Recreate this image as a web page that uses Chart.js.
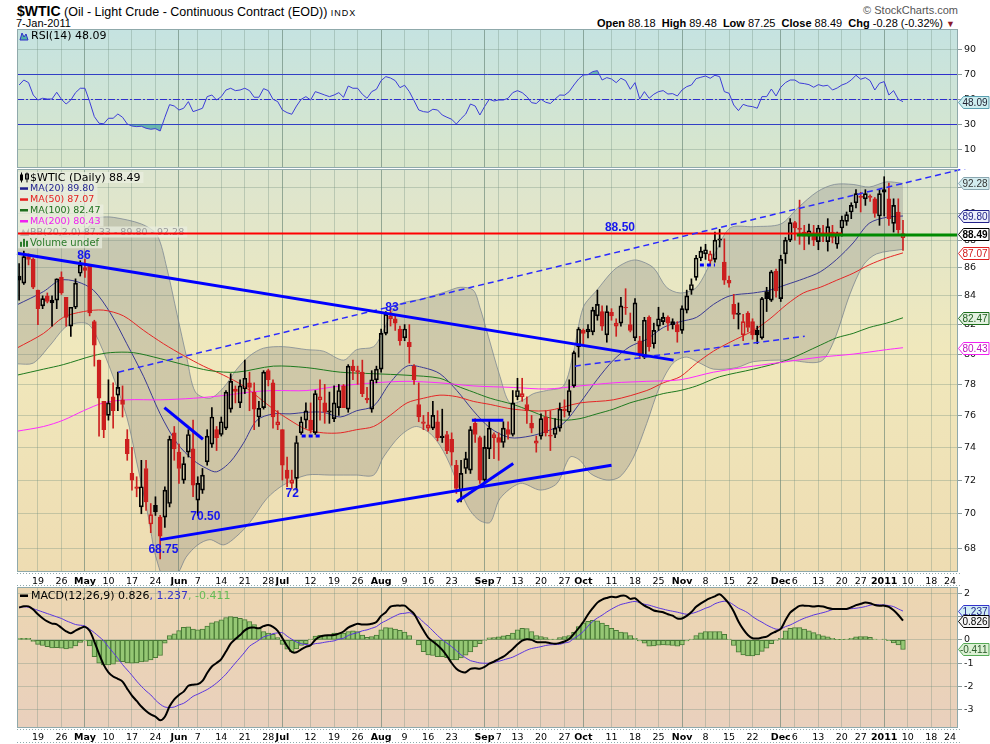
<!DOCTYPE html>
<html>
<head>
<meta charset="utf-8">
<title>$WTIC</title>
<script src="https://cdn.jsdelivr.net/npm/chart.js@4.4.1/dist/chart.umd.min.js"></script>
<style>
  body { margin: 0; width: 990px; height: 744px; background: #fff; position: relative; overflow: hidden; font-family: "Liberation Sans", Arial, sans-serif; }
  canvas { position: absolute; left: 0; }
  .txt { position: absolute; white-space: nowrap; font-size: 11px; line-height: 13px; color: #000; }
</style>
</head>
<body>
<div class="txt" style="left:17px;top:3px;line-height:16px;font-size:12.5px"><b style="font-size:14px">$WTIC</b> (Oil - Light Crude - Continuous Contract (EOD)) <span style="font-size:9px;letter-spacing:1px">INDX</span></div>
<div class="txt" style="left:16px;top:17px">7-Jan-2011</div>
<div class="txt" style="right:32px;top:4px;color:#555">&copy; StockCharts.com</div>
<div class="txt" style="right:35px;top:17px"><b>Open</b> 88.18 &nbsp;<b>High</b> 89.48 &nbsp;<b>Low</b> 87.25 &nbsp;<b>Close</b> 88.49 &nbsp;<b>Chg</b> -0.28 (-0.32%) <span style="color:#8b1a2b;font-size:9px">&#9660;</span></div>

<canvas id="rsiChart" width="990" height="139" style="top:29px"></canvas>
<canvas id="priceChart" width="990" height="418" style="top:169px"></canvas>
<canvas id="macdChart" width="990" height="157" style="top:587px"></canvas>

<script>
Chart.defaults.animation = false;
Chart.defaults.font.family = "'DejaVu Sans', Verdana, sans-serif";

// x axis: trading day index (0 = first bar, 188 = 7-Jan-2011)
const tickDays = [4, 9, 14, 19, 24, 29, 34, 38, 43, 48, 53, 56, 62, 67, 72, 77, 82, 87, 92, 99, 102, 106, 111, 116, 120, 126, 131, 136, 141, 146, 151, 156, 162, 165, 170, 175, 179, 184, 189, 194, 198];
const tickLabels = ["19", "26", "May", "10", "17", "24", "Jun", "7", "14", "21", "28", "Jul", "12", "19", "26", "Aug", "9", "16", "23", "Sep", "7", "13", "20", "27", "Oct", "11", "18", "25", "Nov", "8", "15", "22", "Dec", "6", "13", "20", "27", "2011", "10", "18", "24"];
const monthDays = [14, 34, 56, 77, 99, 120, 141, 162, 184];

// daily OHLC
const open = [85.4,84.9,86.8,86.6,84.4,83.3,84.0,83.5,83.7,85.3, 83.9,81.9,83.2,85.6,85.8,86.2,82.2,79.6,76.9,76.0,
  77.2,77.3,77.0,74.5,72.4,71.6,70.4,72.7,69.4,70.5, 69.8,69.8,70.6,74.9,73.7,72.0,73.7,73.9,70.8,71.4,
  73.1,74.2,75.1,74.8,75.2,76.4,77.7,76.8,77.7,78.1, 77.5,75.9,76.5,78.9,78.1,75.4,75.1,72.6,71.8,72.1,
  74.9,75.7,75.7,74.9,77.0,76.8,76.3,75.8,76.5,77.9, 76.4,79.2,78.9,78.8,77.1,76.4,78.3,79.0,81.4,82.4,
  82.4,81.7,81.1,80.8,79.2,76.7,75.6,75.2,75.2,75.6, 74.7,74.8,74.5,72.9,71.4,72.7,72.6,75.5,74.6,72.0,
  73.9,74.6,74.6,74.3,75.1,74.8,77.2,77.2,76.7,75.5, 74.25,74.7,75.9,74.75,74.8,75.2,76.4,76.2,77.9,80.5,
  81.6,81.5,81.5,82.6,82.9,81.3,82.85,81.9,82.1,83.2, 82.0,81.1,80.9,79.8,82.5,80.7,81.9,82.2,82.5,82.0,
  82.0,81.6,83.0,84.4,85.3,86.7,87.0,86.5,86.6,88.0, 86.4,85.1,83.4,82.7,81.3,82.8,82.2,81.6,81.1,84.3,
  83.7,85.75,83.8,87.0,88.0,89.3,88.9,88.3,88.3,88.3, 87.9,88.3,87.9,88.6,87.7,88.9,89.4,90.1,90.8,91.3,
  91.1,91.3,91.1,89.8,91.6,91.1,89.25,90.1,88.18];
const high = [86.3,87.2,87.0,86.7,84.4,84.0,84.2,84.0,85.2,85.7, 83.9,83.2,85.2,86.5,86.6,86.2,82.3,79.6,76.9,78.3,
  78.1,78.8,77.9,75.1,74.0,72.2,73.2,73.2,70.6,71.0, 69.9,71.6,74.7,75.3,74.2,73.4,75.1,75.7,72.2,72.7,
  75.1,76.5,75.3,75.9,77.6,78.7,77.9,78.3,79.6,78.8, 78.1,76.9,78.9,79.0,78.3,76.3,75.1,73.4,72.6,74.7,
  75.9,76.8,76.8,77.6,78.3,78.0,77.5,77.9,78.0,78.0, 79.3,79.6,79.2,79.6,77.8,78.9,79.2,81.7,82.9,83.1,
  82.7,81.9,82.0,82.0,79.3,78.1,76.0,76.2,76.9,76.3, 76.4,75.0,74.9,73.2,73.2,73.7,75.3,75.8,74.7,74.7,
  75.7,74.9,74.9,75.6,75.6,77.6,78.4,78.4,77.2,76.0, 74.7,76.1,76.3,76.3,75.8,76.8,77.0,78.3,80.2,81.8,
  81.7,82.0,83.2,84.4,83.3,83.3,83.1,82.4,83.9,84.5, 82.8,83.8,81.2,82.5,82.6,82.1,83.2,82.8,82.6,82.4,
  82.2,83.3,84.4,85.2,86.9,87.5,87.7,87.2,88.6,88.8, 88.1,85.4,84.1,83.5,82.7,82.9,82.4,81.9,83.9,84.6,
  85.8,85.9,86.9,88.2,89.6,89.4,91.0,89.1,89.2,89.1, 89.1,89.1,89.6,89.1,88.6,89.8,90.1,90.8,91.8,91.6,
  91.8,91.4,91.2,91.8,92.8,92.3,91.1,91.1,89.48];
const low = [83.7,84.8,86.2,84.5,82.0,83.1,83.5,81.9,83.1,84.1, 81.9,81.2,83.1,85.4,85.3,82.6,79.2,74.7,74.6,75.7,
  75.2,76.3,75.9,73.2,71.4,71.0,70.0,70.2,68.9,69.9, 67.4,69.2,70.4,73.2,71.8,71.8,73.4,71.0,69.9,71.2,
  72.9,74.0,73.8,74.7,75.1,76.2,76.8,76.5,77.4,76.3, 75.1,75.3,76.4,77.9,75.2,75.1,72.0,71.6,71.5,71.4,
  74.8,75.2,74.9,74.8,75.7,75.5,75.5,75.6,76.0,76.5, 76.2,78.3,78.0,77.2,76.8,76.2,78.1,78.8,81.3,81.9,
  81.6,80.6,80.9,79.4,78.0,75.6,75.1,75.0,75.1,74.4, 74.3,73.6,72.9,71.2,70.7,72.4,72.4,74.3,71.8,71.8,
  73.3,73.3,73.2,74.0,74.5,74.7,77.0,76.9,75.5,74.9, 73.7,74.5,74.7,73.8,74.6,75.0,75.9,76.0,77.8,79.8,
  80.6,81.1,81.3,82.3,81.6,80.8,82.3,81.2,81.9,82.7, 81.5,80.9,79.7,79.7,80.2,80.4,81.6,82.0,81.6,81.7,
  80.8,81.4,82.8,84.1,85.1,86.5,86.6,86.2,86.4,87.5, 84.8,84.6,82.4,81.7,80.9,81.5,81.0,80.7,81.0,82.9,
  83.6,83.9,83.6,86.3,87.9,88.0,87.7,87.3,87.7,87.6, 87.3,87.9,87.2,87.8,87.4,88.3,89.1,89.6,90.4,90.1,
  90.6,90.9,89.7,89.1,89.8,89.1,88.6,88.5,87.25];
const close = [85.1,86.8,86.6,84.6,83.1,83.8,83.6,83.7,85.2,84.2, 82.5,83.2,84.9,86.2,86.0,82.8,80.6,77.1,75.1,76.8,
  76.3,77.8,76.7,73.6,72.0,71.5,71.6,70.7,69.95,70.1, 68.7,71.4,74.5,73.9,72.7,73.0,74.8,71.7,71.8,72.3,
  74.7,75.9,74.6,75.6,77.5,78.2,77.55,77.9,78.4,77.8, 76.4,76.45,78.8,78.3,75.9,75.6,72.9,72.1,72.0,74.3,
  75.6,76.3,75.1,77.4,77.2,76.2,76.2,76.8,77.6,76.5, 79.2,78.9,78.8,77.4,77.0,78.3,79.0,81.4,82.7,82.6,
  82.1,80.9,81.7,80.5,78.3,75.9,75.5,75.4,76.0,74.6, 74.6,73.8,73.7,71.5,72.4,73.3,75.1,74.8,72.0,74.0,
  75.2,74.8,74.3,75.2,74.8,76.8,77.6,77.4,76.3,75.2, 74.4,75.8,74.9,74.7,75.2,76.4,76.3,77.6,80.1,81.7,
  81.4,81.7,83.0,83.4,81.9,82.9,82.6,82.1,83.3,83.15, 81.6,83.5,80.0,82.3,80.5,81.6,82.4,82.5,82.1,82.2,
  81.5,83.1,84.0,84.8,86.7,87.2,87.3,87.0,88.0,88.1, 85.1,84.9,82.7,82.8,82.2,81.8,81.3,81.3,83.8,83.8,
  85.7,84.35,86.6,88.0,89.3,88.9,88.8,88.6,88.7,88.0, 88.9,88.5,89.0,88.2,88.4,89.5,89.9,90.6,91.5,91.2,
  91.5,91.2,90.0,91.5,91.8,89.6,90.6,88.77,88.49];
const priorClose = 84.5;

// overlays, [day, value]
const ma20 = [[-0.5,83.36],[5.2,84.3],[8.7,85.1],[12.3,85.0],[15.8,84.4],[19.4,82.8],[22.9,80.7],[26.5,78.5],[30,76.1],[33.6,74.25],
  [37.1,73.2],[39.9,72.7],[42,72.5],[44.9,73.1],[47.7,74.25],[50.6,75.7],[54.1,76.1],[57.6,76.1],[61.2,76.2],[64.7,76.2],
  [68.3,75.9],[71.8,76.3],[75.4,76.6],[78.9,78.1],[82.5,79.2],[86,79.1],[89.5,78.7],[93.1,77.6],[96.6,76.3],[100.2,75.2],
  [104.4,74.6],[108.7,74.7],[112.2,75.0],[115.8,75.5],[119.3,76.8],[122.9,78.3],[126.4,79.6],[129.9,80.5],[133.5,81.0],[137,81.8],
  [140.6,82.2],[144.1,82.5],[147.7,83.4],[151.2,84.0],[156.2,84.2],[159.7,84.4],[163.3,84.8],[166.8,85.2],[170.4,85.7],[173.9,86.6],
  [177.4,87.8],[180.8,89.25],[184.5,89.7],[188,89.8]];
const ma50 = [[-0.5,80.4],[5.2,81.4],[9.4,82.5],[13.7,82.9],[17.9,83.0],[22.2,82.6],[26.5,81.6],[30.7,80.7],[35,79.9],[39.2,79.2],
  [43.5,78.6],[47.7,77.9],[54.1,76.4],[57.6,75.7],[61.2,75.1],[64.7,74.9],[68.3,74.9],[71.8,75.1],[75.4,75.3],[78.9,76.0],
  [82.5,76.8],[86,77.1],[89.5,77.3],[93.1,77.2],[96.6,76.9],[100.2,76.7],[105.1,76.4],[112.2,76.3],[119.3,76.8],[126.4,77.0],
  [133.5,77.6],[137,78.1],[140.6,78.5],[144.1,79.4],[147.7,80.2],[151.2,80.8],[156.2,81.6],[159.7,82.4],[163.3,83.4],[166.8,84.2],
  [170.4,84.6],[173.9,85.1],[177.4,85.6],[180.8,86.2],[184.5,86.7],[188,87.07]];
const ma100 = [[-0.5,78.6],[5.2,79.0],[9.4,79.3],[15.8,79.9],[19.4,80.1],[24.3,80.1],[30,79.7],[35,79.3],[40.6,78.9],[46.3,78.8],
  [54.1,79.2],[61.2,79.1],[68.3,78.8],[75.4,78.7],[82.5,78.6],[89.5,78.4],[93.1,77.9],[96.6,77.5],[100.2,77.1],[105.1,76.7],
  [108.7,76.3],[112.2,75.9],[115.8,75.7],[119.3,75.8],[122.9,76.1],[126.4,76.4],[129.9,76.8],[133.5,77.1],[137,77.4],[140.6,77.6],
  [144.1,77.9],[149,78.5],[156.2,79.0],[163.3,79.6],[170.4,80.6],[173.9,81.1],[177.4,81.4],[180.8,81.8],[184.5,82.1],[188,82.47]];
const ma200 = [[-0.5,75.0],[5.2,75.3],[9.4,75.7],[13.7,76.3],[17.9,76.8],[22.9,77.0],[30,77.0],[37.1,77.1],[44.2,77.3],[49.1,77.5],
  [54.1,77.6],[61.2,77.6],[68.3,77.9],[75.4,78.1],[82.5,78.2],[89.5,78.1],[96.6,77.9],[105.1,77.8],[112.2,77.7],[119.3,77.9],
  [126.4,78.1],[133.5,78.2],[140.6,78.3],[147.7,78.8],[156.2,79.2],[163.3,79.5],[170.4,79.8],[177.4,80.0],[184.5,80.3],[188,80.43]];
const bbUpper = [[-0.5,88.5],[5,88.6],[10,88.3],[14,88.7],[16,89.5],[17.2,89.7],[20,89.7],[26,89.2],[29.3,88.4],[31.4,86.0],
  [33.6,82.7],[35.7,79.7],[37.5,77.5],[40.6,77.1],[43.5,77.8],[46.3,79.0],[49.1,79.9],[52,80.4],[56.2,80.5],[61.2,80.3],
  [64.7,80.2],[69,79.6],[71.8,80.3],[75.4,80.5],[77.5,81.6],[80.3,83.3],[86,83.8],[90.9,84.3],[93.8,84.6],[96.6,84.4],
  [98,83.2],[99.8,81.2],[102.3,78.5],[104.4,76.8],[107.3,77.0],[109.4,77.4],[112.2,77.6],[115.8,77.9],[117.9,80.1],[120,83.2],
  [122.9,84.4],[126.4,85.8],[129.2,86.4],[131.4,86.55],[134.9,86.0],[137.7,84.6],[140.6,84.2],[144.1,84.6],[147.7,86.8],[151.2,88.9],
  [156.2,89.0],[162,89.2],[165.6,90.4],[169.8,91.65],[173.4,92.2],[177.4,92.2],[180.8,92.0],[184.5,92.4],[188,92.28]];
const bbLower = [[-0.5,79.35],[3,79.4],[6.6,80.6],[10.2,81.9],[14.2,82.1],[16,81.5],[19.4,79.0],[22.9,75.9],[25,73.1],[27.5,69.8],
  [29,67.6],[31.4,66.0],[33.8,66.6],[35.5,67.5],[38,68.2],[40.6,68.5],[43.5,68.2],[46.3,68.7],[49.1,69.5],[52.7,70.9],
  [56.2,71.7],[61.2,72.3],[66.1,72.3],[71.8,72.3],[75.4,72.3],[77.5,73.4],[81,74.7],[84.5,75.3],[88,74.7],[90.9,73.4],
  [93.8,71.4],[95.9,70.2],[98,69.6],[100.2,69.5],[102.3,70.9],[106.6,71.8],[110.9,71.4],[114.4,71.8],[117.2,73.4],[119.3,73.2],
  [121.5,72.4],[125,72.0],[127.8,72.2],[130.7,73.4],[133.5,75.5],[136.3,77.9],[139.1,79.4],[141.9,79.8],[144.8,79.4],[147.7,79.0],
  [152.6,79.1],[156.2,79.5],[163.3,79.6],[170.4,79.5],[173.2,80.8],[176.7,84.1],[179.6,86.2],[182.4,87.0],[188,87.33]];

// RSI(14)
const rsi = [61.4,65.4,63.3,53.4,49.4,50.8,50.2,50.2,55.6,50.0, 46.2,49.4,55.3,58.8,58.8,48.1,36.1,30.8,30.4,34.8,
  34.8,38.2,35.6,30.2,28.6,28.1,28.4,26.8,26.0,26.5, 24.6,35.6,45.7,44.6,41.4,42.8,48.1,40.1,41.4,42.8,
  52.1,53.4,49.4,52.1,57.4,58.8,56.9,57.4,58.8,56.9, 51.6,51.6,58.5,56.9,50.0,48.1,41.4,39.3,38.0,44.6,
  50.0,52.1,49.4,56.1,54.8,53.4,52.1,53.4,55.3,51.6, 60.6,58.8,58.8,54.0,50.8,56.1,58.0,64.9,68.1,67.0,
  64.9,59.3,61.2,56.1,48.9,41.4,40.1,39.6,42.0,41.4, 37.4,35.6,34.0,30.2,34.5,38.2,46.2,44.6,37.4,44.1,
  50.0,48.6,49.4,49.4,50.8,55.3,56.9,55.3,52.1,47.3, 46.6,50.0,47.6,46.6,50.2,53.4,53.2,56.1,61.4,66.2,
  69.4,69.7,72.1,72.9,65.4,67.3,66.2,63.3,66.8,64.9, 58.0,63.3,50.2,56.1,50.8,54.0,56.1,56.9,54.2,54.5,
  52.6,57.4,60.1,61.4,66.5,67.6,68.6,66.8,69.2,68.1, 56.1,54.8,45.4,40.9,45.9,44.6,44.1,42.8,52.1,52.1,
  58.2,52.6,59.6,63.3,65.4,65.4,63.0,62.5,61.7,59.6, 61.7,60.6,61.2,57.4,59.0,61.4,62.8,65.4,69.2,66.0,
  67.3,64.9,57.4,62.8,64.1,53.4,56.9,50.0,48.09];
const rsiBands = [30, 70];
const rsiMid = 50;

// MACD(12,26,9)
const macd = [1.39,1.44,1.44,1.30,1.10,0.93,0.79,0.70,0.67,0.52, 0.37,0.29,0.40,0.50,0.56,0.39,-0.07,-0.60,-1.07,-1.39,
  -1.57,-1.67,-1.79,-2.10,-2.39,-2.62,-2.86,-3.05,-3.20,-3.29, -3.45,-3.30,-2.85,-2.55,-2.36,-2.22,-1.97,-1.92,-1.90,-1.76,
  -1.42,-1.14,-0.99,-0.82,-0.50,-0.16,0.04,0.21,0.41,0.52, 0.53,0.50,0.59,0.64,0.56,0.39,0.07,-0.26,-0.52,-0.53,
  -0.41,-0.30,-0.23,0.01,0.14,0.19,0.20,0.21,0.27,0.36, 0.53,0.62,0.69,0.66,0.66,0.69,0.77,1.03,1.19,1.43,
  1.47,1.47,1.47,1.30,1.12,0.76,0.41,0.10,-0.07,-0.23, -0.43,-0.69,-0.99,-1.24,-1.36,-1.39,-1.24,-1.22,-1.24,-1.16,
  -1.02,-0.93,-0.82,-0.72,-0.56,-0.39,-0.19,-0.03,0.03,0.00, -0.09,-0.10,-0.10,-0.14,-0.17,-0.13,-0.07,0.04,0.26,0.50,
  0.77,1.09,1.36,1.60,1.73,1.80,1.85,1.83,1.89,1.89, 1.76,1.79,1.62,1.47,1.37,1.26,1.22,1.19,1.10,1.04,
  0.92,0.92,1.03,1.20,1.42,1.57,1.69,1.79,1.87,1.96, 1.79,1.55,1.22,0.79,0.46,0.21,0.07,0.06,0.10,0.14,
  0.27,0.36,0.47,0.84,1.17,1.33,1.46,1.47,1.46,1.43, 1.46,1.43,1.37,1.33,1.33,1.33,1.33,1.40,1.49,1.55,
  1.60,1.57,1.50,1.47,1.47,1.42,1.27,1.07,0.826];
const signal = [1.40,1.42,1.40,1.34,1.27,1.20,1.13,1.06,0.99,0.92, 0.82,0.74,0.66,0.63,0.60,0.46,0.31,0.14,-0.04,-0.30,
  -0.54,-0.79,-1.06,-1.29,-1.52,-1.77,-1.99,-2.19,-2.36,-2.58, -2.76,-2.88,-2.90,-2.88,-2.79,-2.72,-2.58,-2.42,-2.33,-2.23,
  -2.13,-2.00,-1.85,-1.67,-1.47,-1.23,-0.99,-0.76,-0.52,-0.27, -0.14,-0.01,0.13,0.19,0.27,0.30,0.31,0.16,0.03,-0.09,
  -0.16,-0.20,-0.21,-0.16,-0.14,-0.10,-0.07,-0.04,0.03,0.07, 0.19,0.26,0.31,0.39,0.43,0.50,0.57,0.72,0.82,0.93,
  1.03,1.12,1.14,1.17,1.06,0.96,0.76,0.59,0.39,0.19, 0.01,-0.14,-0.29,-0.46,-0.64,-0.77,-0.89,-0.94,-0.99,-1.00,
  -1.00,-0.96,-0.92,-0.86,-0.80,-0.74,-0.64,-0.54,-0.44,-0.37, -0.33,-0.29,-0.24,-0.21,-0.20,-0.19,-0.13,-0.09,0.06,0.19,
  0.36,0.59,0.79,0.94,1.06,1.20,1.32,1.43,1.52,1.57, 1.62,1.65,1.60,1.53,1.49,1.43,1.37,1.32,1.27,1.23,
  1.19,1.14,1.10,1.13,1.19,1.27,1.36,1.43,1.55,1.62, 1.66,1.62,1.50,1.36,1.27,1.16,1.00,0.87,0.76,0.64,
  0.54,0.46,0.47,0.57,0.64,0.74,0.84,0.93,1.00,1.07, 1.12,1.17,1.23,1.30,1.32,1.33,1.33,1.34,1.36,1.39,
  1.43,1.49,1.52,1.50,1.50,1.47,1.43,1.33,1.237];
const hist = [0.07,0.07,0.07,-0.07,-0.19,-0.24,-0.29,-0.34,-0.33,-0.36, -0.39,-0.36,-0.26,-0.11,-0.04,-0.26,-0.72,-1.00,-1.07,-1.07,
  -1.04,-0.92,-0.93,-0.99,-1.00,-0.99,-0.94,-0.92,-0.86,-0.76, -0.67,-0.14,0.19,0.26,0.40,0.54,0.56,0.46,0.43,0.46,
  0.59,0.73,0.79,0.86,0.96,1.00,0.97,0.93,0.87,0.79, 0.66,0.50,0.36,0.29,0.24,0.10,-0.19,-0.40,-0.50,-0.39,
  -0.24,-0.16,0.04,0.16,0.20,0.21,0.21,0.29,0.29,0.29, 0.36,0.39,0.36,0.21,0.11,0.14,0.21,0.43,0.53,0.52,
  0.46,0.41,0.34,0.19,0.00,-0.21,-0.50,-0.64,-0.67,-0.72, -0.72,-0.76,-0.86,-0.86,-0.77,-0.66,-0.52,-0.30,-0.16,-0.01,
  0.09,0.10,0.13,0.17,0.20,0.29,0.43,0.50,0.49,0.36, 0.19,0.14,0.10,0.04,0.04,0.10,0.14,0.19,0.33,0.57,
  0.73,0.80,0.84,0.82,0.72,0.62,0.50,0.41,0.34,0.31, 0.19,0.07,-0.04,-0.14,-0.27,-0.26,-0.23,-0.21,-0.23,-0.24,
  -0.27,-0.21,-0.04,0.04,0.19,0.30,0.36,0.36,0.36,0.36, 0.24,0.04,-0.24,-0.53,-0.64,-0.69,-0.69,-0.64,-0.49,-0.36,
  -0.16,-0.01,0.07,0.39,0.50,0.53,0.53,0.46,0.39,0.31, 0.23,0.17,0.13,0.07,0.01,0.01,0.04,0.07,0.13,0.14,
  0.14,0.11,0.03,0.00,0.04,-0.03,-0.13,-0.21,-0.411];

// axis ticks
const rsiTicks = [10, 30, 50, 70, 90];
const priceTicks = [68, 70, 72, 74, 76, 78, 80, 82, 84, 86, 88, 90, 92];
const macdTicks = [-3, -2, -1, 0, 1, 2];

// hand drawn annotations, [day, price]
const solidTrends = [
  [[-0.45, 87.05], [139.2, 79.6]],
  [[30, 68.5], [126, 72.9]],
  [[30.9, 76.5], [39.1, 74.5]],
  [[93.1, 70.7], [105.1, 73.0]],
  [[96.3, 75.7], [103, 75.7]]
];
const dashedTrends = [
  [[21.1, 78.8], [203, 93.6]],
  [[118.2, 79.2], [167.1, 81.2]]
];
const dashMarks = [
  [[60.1, 74.7], [64, 74.7]],
  [[144.8, 86.2], [148, 86.2]]
];
const resistance = [[-0.45, 88.5], [175, 88.5]];
const lastLine = [[165.4, 88.38], [199.7, 88.38]];
const noteLabels = [["86", 13.8, 86.9], ["83", 79.3, 83.2], ["72", 58.1, 71.2], ["70.50", 39.6, 69.8], ["68.75", 30.7, 67.9], ["88.50", 127.8, 88.9]];

// last values shown in the right margin
const priceTags = [92.28, 89.80, 87.07, 82.47, 80.43, 88.49];
const rsiTags = [48.09];
const macdTags = [1.237, 0.826, -0.411];

// ---------------------------------------------------------------
const X_MIN = -0.45, X_MAX = 199.7;
const FONT = "'DejaVu Sans', Verdana, sans-serif";
const TAG_FONT = "'Liberation Sans', Arial, sans-serif";
const WEEK_GRID = "rgba(110,140,125,0.33)";
const MONTH_GRID = "rgba(95,125,110,0.6)";
const H_GRID = "rgba(110,140,125,0.33)";
const UP = "#000000", DOWN = "#cc1f1f";

const toPoints = pairs => pairs.map(([x, y]) => ({ x, y }));
const days = close.map((_, i) => i);

function xAxis(labelHeight) {
  return {
    type: "linear", min: X_MIN, max: X_MAX, offset: false,
    afterBuildTicks: axis => { axis.ticks = tickDays.map(v => ({ value: v })); },
    afterFit: axis => {
      axis.height = labelHeight;
      axis.paddingLeft = 0; axis.paddingRight = 0;
    },
    grid: {
      offset: false, drawTicks: false,
      color: ctx => (ctx.tick && monthDays.includes(ctx.tick.value)) ? MONTH_GRID : WEEK_GRID
    },
    border: { display: false },
    ticks: {
      display: labelHeight > 0, autoSkip: false, maxRotation: 0, minRotation: 0, padding: 4, color: "#000",
      font: ctx => ({ family: FONT, size: 9.5, weight: (ctx.tick && monthDays.includes(ctx.tick.value)) ? "bold" : "normal" }),
      callback: v => { const k = tickDays.indexOf(v); return k >= 0 ? tickLabels[k] : ""; }
    }
  };
}

function yAxis(type, min, max, ticks) {
  return {
    type, position: "right", min, max,
    afterBuildTicks: axis => { axis.ticks = ticks.map(v => ({ value: v })); },
    afterFit: axis => { axis.width = 32; axis.paddingTop = 0; axis.paddingBottom = 0; },
    grid: { color: H_GRID, tickColor: "#8a9a9a", tickLength: 4 },
    border: { display: false },
    ticks: { padding: 2, color: "#111", font: { family: FONT, size: 9.5 }, callback: v => String(v) }
  };
}

function panelPlugin(stops) {
  return {
    id: "panel",
    beforeDraw(chart) {
      const { ctx, chartArea: a } = chart;
      const g = ctx.createLinearGradient(0, a.top, 0, a.bottom);
      stops.forEach(([p, c]) => g.addColorStop(p, c));
      ctx.save();
      ctx.fillStyle = g;
      ctx.fillRect(a.left, a.top, a.right - a.left, a.bottom - a.top);
      ctx.restore();
    },
    afterDraw(chart) {
      const { ctx, chartArea: a } = chart;
      ctx.save();
      ctx.strokeStyle = "#8fa9ab";
      ctx.lineWidth = 1;
      ctx.strokeRect(a.left + 0.5, a.top + 0.5, a.right - a.left - 1, a.bottom - a.top - 1);
      ctx.restore();
    }
  };
}

function drawTag(ctx, x, y, text, st) {
  ctx.save();
  ctx.beginPath();
  ctx.moveTo(x + 0.5, y);
  ctx.lineTo(x + 5.5, y - 6);
  ctx.lineTo(x + 31, y - 6);
  ctx.lineTo(x + 31, y + 6);
  ctx.lineTo(x + 5.5, y + 6);
  ctx.closePath();
  ctx.fillStyle = st.fill;
  ctx.fill();
  ctx.strokeStyle = st.stroke;
  ctx.lineWidth = 1;
  ctx.stroke();
  ctx.fillStyle = st.text;
  ctx.font = (st.bold ? "bold " : "") + "10px " + TAG_FONT;
  ctx.textAlign = "right";
  ctx.textBaseline = "middle";
  ctx.fillText(text, x + 29.5, y + 0.5);
  ctx.restore();
}

function tagPlugin(values, styles, digits) {
  return {
    id: "tags",
    afterDraw(chart) {
      const y = chart.scales.y, x0 = chart.chartArea.right;
      values.forEach((v, k) => drawTag(chart.ctx, x0, Math.round(y.getPixelForValue(v)) + 0.5, v.toFixed(digits), styles[k]));
    }
  };
}

function dottedStrip(offsets) {
  return {
    id: "strip",
    afterDraw(chart) {
      const { ctx, chartArea: a } = chart;
      ctx.save();
      ctx.strokeStyle = "#8fa9ab";
      ctx.setLineDash([1, 2]);
      offsets.forEach(o => {
        ctx.beginPath();
        ctx.moveTo(a.left, a.bottom + o);
        ctx.lineTo(a.right + 2, a.bottom + o);
        ctx.stroke();
      });
      ctx.restore();
    }
  };
}

// ---------------- RSI ----------------
new Chart(document.getElementById("rsiChart"), {
  type: "line",
  data: {
    datasets: [
      { label: "RSI", data: days.map(i => ({ x: i, y: rsi[i] })), borderColor: "#3d3dd8", borderWidth: 1, pointRadius: 0,
        fill: { target: { value: rsiBands[1] }, above: "rgba(70,165,160,0.75)", below: "rgba(0,0,0,0)" }, order: 1 },
      { label: "RSI low", data: days.map(i => ({ x: i, y: rsi[i] })), borderWidth: 0, borderColor: "rgba(0,0,0,0)", pointRadius: 0,
        fill: { target: { value: rsiBands[0] }, above: "rgba(0,0,0,0)", below: "rgba(70,165,160,0.75)" }, order: 2 }
    ]
  },
  options: {
    responsive: false, events: [],
    layout: { padding: { left: 17, right: 0, top: 0, bottom: 0 } },
    plugins: { legend: { display: false }, tooltip: { enabled: false } },
    scales: { x: xAxis(0), y: yAxis("linear", -5, 106.2, rsiTicks) }
  },
  plugins: [
    panelPlugin([[0, "#c5e3e1"], [1, "#d9e6cb"]]),
    {
      id: "rsiLevels",
      beforeDatasetsDraw(chart) {
        const { ctx, chartArea: a, scales: { y } } = chart;
        ctx.save();
        ctx.strokeStyle = "#2f2fcc";
        ctx.lineWidth = 1;
        rsiBands.forEach(v => {
          const py = Math.round(y.getPixelForValue(v)) + 0.5;
          ctx.beginPath(); ctx.moveTo(a.left, py); ctx.lineTo(a.right, py); ctx.stroke();
        });
        ctx.setLineDash([7, 2, 2, 2]);
        const pm = Math.round(y.getPixelForValue(rsiMid)) + 0.5;
        ctx.beginPath(); ctx.moveTo(a.left, pm); ctx.lineTo(a.right, pm); ctx.stroke();
        ctx.restore();
      },
      afterDatasetsDraw(chart) {
        const { ctx, chartArea: a } = chart;
        ctx.save();
        const ix = a.left + 3, iy = a.top + 3;
        ctx.beginPath();
        ctx.moveTo(ix, iy + 8); ctx.lineTo(ix + 2, iy + 1); ctx.lineTo(ix + 4, iy + 5); ctx.lineTo(ix + 6, iy + 2); ctx.lineTo(ix + 8, iy + 8);
        ctx.closePath();
        ctx.fillStyle = "#4fb0a8"; ctx.fill();
        ctx.strokeStyle = "#2f2fcc"; ctx.stroke();
        ctx.font = "11px " + FONT;
        ctx.fillStyle = "#000";
        ctx.textBaseline = "middle";
        ctx.fillText("RSI(14) 48.09", a.left + 14, a.top + 7.5);
        ctx.restore();
      }
    },
    tagPlugin(rsiTags, [{ fill: "#cdeef0", stroke: "#5a9fb0", text: "#223" }], 2)
  ]
});

// ---------------- Price ----------------
const candleColor = days.map(i => close[i] >= (i ? close[i - 1] : priorClose) ? UP : DOWN);
const bodyFill = days.map(i => close[i] > open[i] ? "rgba(0,0,0,0)" : candleColor[i]);

const lineSet = (label, pairs, color, width, order, extra) => Object.assign({
  type: "line", label, data: toPoints(pairs), borderColor: color, borderWidth: width,
  pointRadius: 0, fill: false, tension: 0.3, order
}, extra || {});

const priceSets = [
  lineSet("bbUpper", bbUpper, "rgba(120,132,145,0.75)", 1, 30, { fill: "+1", backgroundColor: "rgba(120,120,120,0.27)" }),
  lineSet("bbLower", bbLower, "rgba(120,132,145,0.75)", 1, 30),
  lineSet("ma200", ma200, "#ff2bff", 1, 20),
  lineSet("ma100", ma100, "#1f7a1f", 1, 20),
  lineSet("ma50", ma50, "#e52626", 1, 20),
  lineSet("ma20", ma20, "#3a3a94", 1, 20),
  { type: "bar", label: "wickLow", data: days.map(i => ({ x: i, y: [low[i], Math.min(open[i], close[i])] })),
    backgroundColor: candleColor, borderWidth: 0, barThickness: 1, grouped: false, order: 12 },
  { type: "bar", label: "wickHigh", data: days.map(i => ({ x: i, y: [Math.max(open[i], close[i]), high[i]] })),
    backgroundColor: candleColor, borderWidth: 0, barThickness: 1, grouped: false, order: 12 },
  { type: "bar", label: "body", data: days.map(i => ({ x: i, y: [open[i], close[i]] })),
    backgroundColor: bodyFill, borderColor: candleColor, borderWidth: 1, borderSkipped: false, barThickness: 4, grouped: false, order: 11 },
  lineSet("level", resistance, "#ff0000", 2, 6, { tension: 0 }),
  lineSet("lastLine", lastLine, "#008a00", 3, 5, { tension: 0, clip: false })
];
solidTrends.forEach((seg, k) => priceSets.push(lineSet("trend" + k, seg, "#0000ff", 3, 3, { tension: 0, clip: false })));
dashedTrends.forEach((seg, k) => priceSets.push(lineSet("dash" + k, seg, "#2a2aff", 1.5, 3, { tension: 0, clip: false, borderDash: [6, 4] })));
dashMarks.forEach((seg, k) => priceSets.push(lineSet("mark" + k, seg, "#0000ff", 3, 3, { tension: 0, borderDash: [4, 3] })));

function drawPriceLegend(chart) {
  const { ctx, chartArea: a } = chart;
  const rows = [
    { text: "$WTIC (Daily) 88.49", color: "#000", size: 11, icon: "candle", y: 8.5 },
    { text: "MA(20) 89.80", color: "#1f1f8f", size: 9.5, icon: "#1f1f8f", y: 19.3 },
    { text: "MA(50) 87.07", color: "#e52020", size: 9.5, icon: "#e52020", y: 30.3 },
    { text: "MA(100) 82.47", color: "#1d6f1d", size: 9.5, icon: "#1d6f1d", y: 41 },
    { text: "MA(200) 80.43", color: "#f020f0", size: 9.5, icon: "#f020f0", y: 52 },
    { text: "BB(20,2.0) 87.33 - 89.80 - 92.28", color: "#9a9a9a", size: 9.5, icon: "band", y: 63 },
    { text: "Volume undef", color: "#2a7a2a", size: 10, icon: "bars", y: 73.8 }
  ];
  ctx.save();
  ctx.textBaseline = "middle";
  rows.forEach(r => {
    ctx.font = r.size + "px " + FONT;
    const w = ctx.measureText(r.text).width;
    const cy = a.top + r.y;
    ctx.fillStyle = "rgba(234,239,224,0.72)";
    ctx.fillRect(a.left + 1, cy - 5.5, w + 15, 11);
    const ix = a.left + 3;
    if (r.icon === "candle") {
      ctx.fillStyle = "#000";
      ctx.fillRect(ix, cy - 3, 3, 6); ctx.fillRect(ix + 1, cy - 5, 1, 10);
      ctx.strokeStyle = "#000"; ctx.lineWidth = 1;
      ctx.strokeRect(ix + 5.5, cy - 3.5, 3, 5); ctx.fillRect(ix + 6.5, cy - 5, 1, 10);
    } else if (r.icon === "band") {
      ctx.fillStyle = "rgba(130,130,130,0.45)";
      ctx.beginPath(); ctx.moveTo(ix, cy + 4); ctx.lineTo(ix + 3, cy - 3); ctx.lineTo(ix + 6, cy + 1); ctx.lineTo(ix + 9, cy - 4); ctx.lineTo(ix + 9, cy + 4); ctx.closePath(); ctx.fill();
    } else if (r.icon === "bars") {
      ctx.fillStyle = "#2a7a2a";
      [[0, 5], [3, 8], [6, 6]].forEach(([dx, h]) => ctx.fillRect(ix + dx, cy + 4 - h, 2, h));
    } else {
      ctx.fillStyle = r.icon;
      ctx.fillRect(ix, cy - 1, 8, 2.5);
    }
    ctx.fillStyle = r.color;
    ctx.fillText(r.text, a.left + 13, cy + 0.5);
  });
  ctx.restore();
}

new Chart(document.getElementById("priceChart"), {
  type: "bar",
  data: { datasets: priceSets },
  options: {
    responsive: false, events: [],
    layout: { padding: { left: 17, right: 0, top: 0, bottom: 0 } },
    plugins: { legend: { display: false }, tooltip: { enabled: false } },
    scales: { x: xAxis(15), y: yAxis("logarithmic", 66.67, 93.4, priceTicks) }
  },
  plugins: [
    panelPlugin([[0, "#dce5cf"], [0.45, "#f0e8bc"], [1, "#eedcb2"]]),
    {
      id: "legendAndNotes",
      beforeDatasetDraw(chart, args) {
        if (chart.data.datasets[args.index].label === "level") drawPriceLegend(chart);
      },
      afterDatasetsDraw(chart) {
        const { ctx, scales: { x, y } } = chart;
        ctx.save();
        ctx.font = "bold 12px 'Liberation Sans', Arial, sans-serif";
        ctx.fillStyle = "#1616ee";
        ctx.textAlign = "center";
        ctx.textBaseline = "middle";
        noteLabels.forEach(([t, d, p]) => ctx.fillText(t, x.getPixelForValue(d), y.getPixelForValue(p)));
        ctx.restore();
      }
    },
    dottedStrip([1.5, 13.5]),
    tagPlugin(priceTags, [
      { fill: "#d3ecef", stroke: "#8aa6b0", text: "#333" },
      { fill: "#eef0fa", stroke: "#22228a", text: "#22228a" },
      { fill: "#ffffff", stroke: "#e02020", text: "#d01818" },
      { fill: "#e3f1e0", stroke: "#1d6f1d", text: "#1d5f1d" },
      { fill: "#ffffff", stroke: "#f020f0", text: "#c010c0" },
      { fill: "#ffffff", stroke: "#000000", text: "#000000", bold: true }
    ], 2)
  ]
});

// ---------------- MACD ----------------
new Chart(document.getElementById("macdChart"), {
  type: "bar",
  data: {
    datasets: [
      { type: "line", label: "MACD", data: days.map(i => ({ x: i, y: macd[i] })), borderColor: "#000", borderWidth: 2, pointRadius: 0, tension: 0.3, order: 1 },
      { type: "line", label: "Signal", data: days.map(i => ({ x: i, y: signal[i] })), borderColor: "#5a35e0", borderWidth: 1, pointRadius: 0, tension: 0.3, order: 2 },
      { type: "bar", label: "Hist", data: days.map(i => ({ x: i, y: hist[i] })), backgroundColor: "#95c774", borderColor: "#4a7a36",
        borderWidth: 1, borderSkipped: false, barThickness: 4.7, order: 5 }
    ]
  },
  options: {
    responsive: false, events: [],
    layout: { padding: { left: 17, right: 0, top: 0, bottom: 0 } },
    plugins: { legend: { display: false }, tooltip: { enabled: false } },
    scales: { x: xAxis(16), y: yAxis("linear", -3.78, 2.27, macdTicks) }
  },
  plugins: [
    panelPlugin([[0, "#ecd6b1"], [1, "#e9d0bd"]]),
    {
      id: "macdLegend",
      afterDatasetsDraw(chart) {
        const { ctx, chartArea: a } = chart;
        ctx.save();
        ctx.font = "11px " + FONT;
        ctx.textBaseline = "middle";
        const cy = a.top + 8.5;
        ctx.fillStyle = "#000";
        ctx.fillRect(a.left + 3, cy - 1, 8, 2.5);
        let x = a.left + 14;
        [["MACD(12,26,9) 0.826", "#000"], [", 1.237", "#3333cc"], [", -0.411", "#66bb55"]].forEach(([t, c]) => {
          ctx.fillStyle = c;
          ctx.fillText(t, x, cy + 0.5);
          x += ctx.measureText(t).width;
        });
        ctx.restore();
      }
    },
    dottedStrip([1.5, 14.5]),
    tagPlugin(macdTags, [
      { fill: "#d0eef5", stroke: "#3333cc", text: "#22228a" },
      { fill: "#f6f6f6", stroke: "#000000", text: "#000000" },
      { fill: "#dcf1d4", stroke: "#55aa55", text: "#2a5a2a" }
    ], 3)
  ]
});
</script>
</body>
</html>
